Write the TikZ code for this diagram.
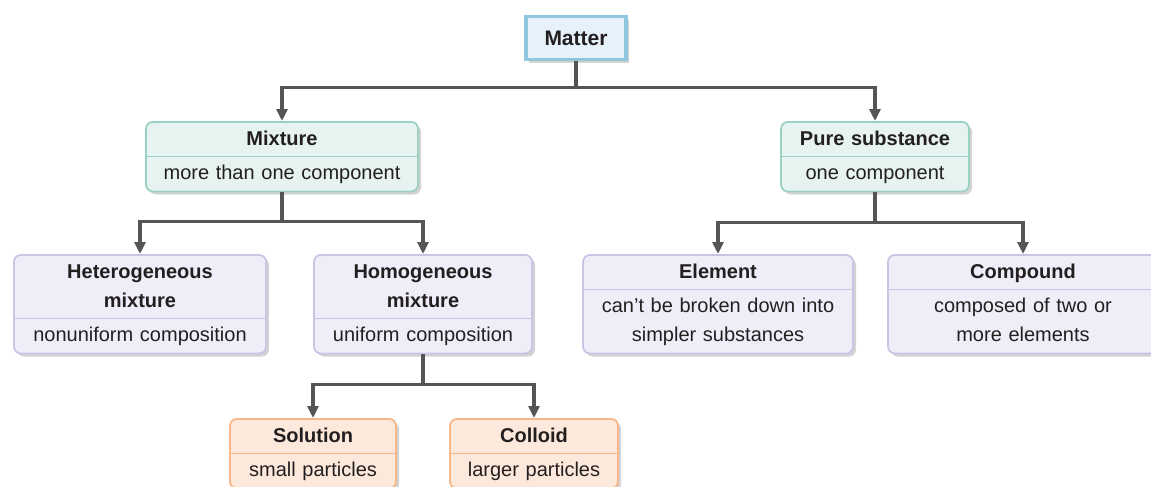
\documentclass[tikz,border=0pt]{standalone}
\usepackage{fontspec}
\setmainfont{Liberation Sans}
\usetikzlibrary{shapes.multipart,shadows,arrows.meta}

\definecolor{ink}{HTML}{231F20}
\definecolor{linkgray}{HTML}{555555}
\definecolor{matterfill}{HTML}{E6F1F9}
\definecolor{matterline}{HTML}{92C6DE}
\definecolor{tealfill}{HTML}{E7F3F1}
\definecolor{tealline}{HTML}{9BD1C3}
\definecolor{lavfill}{HTML}{EFEEF8}
\definecolor{lavline}{HTML}{C8C5E5}
\definecolor{orangefill}{HTML}{FDE9DB}
\definecolor{orangeline}{HTML}{F5B78A}

\newcommand{\hd}[1]{\strut\textbf{#1}\strut}
\newcommand{\bd}[1]{\strut#1\strut}

\tikzset{
  box/.style={rectangle split, rectangle split parts=2,
    rectangle split draw splits=false, rounded corners=7pt,
    line width=1.8pt, inner xsep=4pt, inner ysep=2pt, align=center,
    text=ink, font=\fontsize{20}{29}\selectfont, anchor=north,
    drop shadow={opacity=0.35, shadow xshift=3pt, shadow yshift=-3pt}},
  mixbox/.style={box, draw=tealline, fill=tealfill},
  kindbox/.style={box, draw=lavline, fill=lavfill},
  partbox/.style={box, draw=orangeline, fill=orangefill},
  matterbox/.style={draw=matterline, fill=matterfill, line width=3.5pt,
    minimum width=100pt, minimum height=43pt, anchor=north, text=ink,
    font=\fontsize{21}{29}\selectfont\bfseries,
    drop shadow={opacity=0.35, shadow xshift=3pt, shadow yshift=-3pt}},
  split/.style={line width=0.9pt},
  link/.style={draw=linkgray, line width=3.2pt,
    -{Triangle[length=12pt,width=11pt]}},
}

\begin{document}
\begin{tikzpicture}[x=1pt,y=-1pt]
    \useasboundingbox (0,0) rectangle (1151,487);
    \clip (0,0) rectangle (1151,487);

    % Top of the tree
    \node[matterbox] (matter) at (576,15) {Matter};

    % Mixture and pure substance
    \node[mixbox, text width=264pt] (mixture) at (282,121)
        {\hd{Mixture}\nodepart{two}\bd{more than one component}};
    \node[mixbox, text width=180pt] (pure) at (875,121)
        {\hd{Pure substance}\nodepart{two}\bd{one component}};

    % Kinds of mixtures
    \node[kindbox, text width=244pt] (hetero) at (140,254)
        {\hd{Heterogeneous\\mixture}\nodepart{two}\bd{nonuniform composition}};
    \node[kindbox, text width=210pt] (homo) at (423,254)
        {\hd{Homogeneous\\mixture}\nodepart{two}\bd{uniform composition}};

    % Kinds of pure substances
    \node[kindbox, text width=262pt] (element) at (718,254)
        {\hd{Element}\nodepart{two}\bd{can’t be broken down into\\simpler substances}};
    \node[kindbox, text width=262pt] (compound) at (1023,254)
        {\hd{Compound}\nodepart{two}\bd{composed of two or\\more elements}};

    % Homogeneous mixtures
    \node[partbox, text width=158pt] (solution) at (313,418)
        {\hd{Solution}\nodepart{two}\bd{small particles}};
    \node[partbox, text width=160pt] (colloid) at (534,418)
        {\hd{Colloid}\nodepart{two}\bd{larger particles}};

    % Split lines inside the boxes
    \draw[split, tealline] (mixture.text split west) -- (mixture.text split east);
    \draw[split, tealline] (pure.text split west) -- (pure.text split east);
    \draw[split, lavline] (hetero.text split west) -- (hetero.text split east);
    \draw[split, lavline] (homo.text split west) -- (homo.text split east);
    \draw[split, lavline] (element.text split west) -- (element.text split east);
    \draw[split, lavline] (compound.text split west) -- (compound.text split east);
    \draw[split, orangeline] (solution.text split west) -- (solution.text split east);
    \draw[split, orangeline] (colloid.text split west) -- (colloid.text split east);

    % Connectors
    \draw[link] (matter.south) -- ++(0,26) -| (mixture.north);
    \draw[link] (matter.south) -- ++(0,26) -| (pure.north);
    \draw[link] (mixture.south) -- ++(0,29) -| (hetero.north);
    \draw[link] (mixture.south) -- ++(0,29) -| (homo.north);
    \draw[link] (pure.south) -- ++(0,30) -| (element.north);
    \draw[link] (pure.south) -- ++(0,30) -| (compound.north);
    \draw[link] (homo.south) -- ++(0,30) -| (solution.north);
    \draw[link] (homo.south) -- ++(0,30) -| (colloid.north);
\end{tikzpicture}
\end{document}
